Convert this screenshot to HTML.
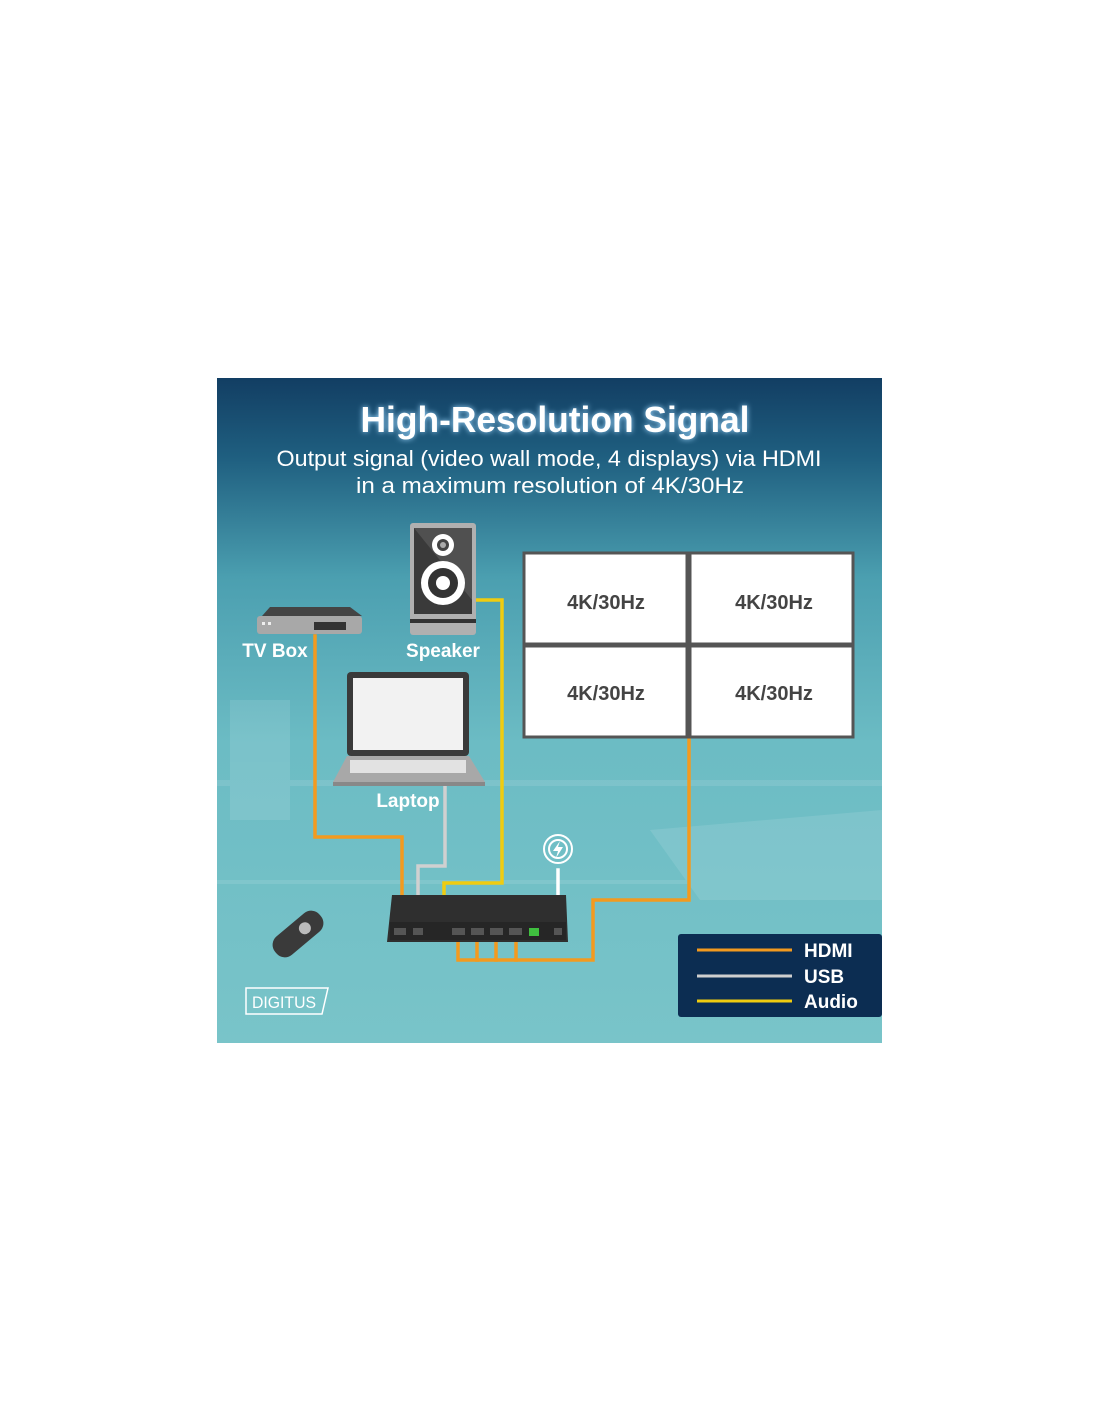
<!DOCTYPE html>
<html><head><meta charset="utf-8"><style>
html,body{margin:0;padding:0;background:#fff;}
svg{display:block;}
text{font-family:"Liberation Sans Narrow","Liberation Sans",sans-serif;}
</style></head><body>
<svg width="1100" height="1422" viewBox="0 0 1100 1422" xmlns="http://www.w3.org/2000/svg">
<defs>
<linearGradient id="bg" x1="0" y1="0" x2="0" y2="1">
<stop offset="0" stop-color="#123e63"/>
<stop offset="0.12" stop-color="#1f5f80"/>
<stop offset="0.3" stop-color="#4b9fb0"/>
<stop offset="0.55" stop-color="#6cbcc4"/>
<stop offset="1" stop-color="#79c4c9"/>
</linearGradient>
<filter id="glow"><feGaussianBlur stdDeviation="3"/></filter>
</defs>
<rect x="217" y="378" width="665" height="665" fill="url(#bg)"/>
<g opacity="0.1" fill="#ffffff">
<rect x="217" y="780" width="665" height="6"/>
<rect x="217" y="880" width="665" height="4"/>
<polygon points="650,830 882,810 882,900 700,900"/>
<rect x="230" y="700" width="60" height="120"/>
</g>
<text x="555" y="432" text-anchor="middle" font-size="36" font-weight="bold" fill="#9fd8ff" filter="url(#glow)" textLength="389" lengthAdjust="spacingAndGlyphs">High-Resolution Signal</text>
<text x="555" y="432" text-anchor="middle" font-size="36" font-weight="bold" fill="#fff" textLength="389" lengthAdjust="spacingAndGlyphs">High-Resolution Signal</text>
<text x="549" y="466" text-anchor="middle" font-size="22" fill="#fff" textLength="545" lengthAdjust="spacingAndGlyphs">Output signal (video wall mode, 4 displays) via HDMI</text>
<text x="550" y="493" text-anchor="middle" font-size="22" fill="#fff" textLength="388" lengthAdjust="spacingAndGlyphs">in a maximum resolution of 4K/30Hz</text>

<g fill="none" stroke-width="3.5" stroke-linejoin="miter" stroke-linecap="square">
<polyline points="315,636 315,837 402,837 402,930" stroke="#f39a1f"/>
<polyline points="445,785 445,866 418,866 418,930" stroke="#d0d0d0"/>
<polyline points="476,600 502,600 502,883 444,883 444,930" stroke="#f0cc10"/>
<polyline points="431,930 431,917 444,917" stroke="#f0cc10"/>
<polyline points="558,870 558,930" stroke="#ffffff"/>
<polyline points="458,935 458,960 593,960 593,900 689,900 689,738" stroke="#f39a1f"/>
<line x1="477" y1="935" x2="477" y2="960" stroke="#f39a1f"/>
<line x1="496" y1="935" x2="496" y2="960" stroke="#f39a1f"/>
<line x1="516" y1="935" x2="516" y2="960" stroke="#f39a1f"/>
</g>

<circle cx="558" cy="849" r="14" fill="none" stroke="#fff" stroke-width="2"/>
<circle cx="558" cy="849" r="9" fill="none" stroke="#fff" stroke-width="2"/>
<polygon points="560,841 553,851 558,851 556,858 563,847 558,847" fill="#fff"/>

<polygon points="392,895 566,895 568,942 387,942" fill="#2f2f2f"/>
<rect x="390" y="922" width="176" height="18" fill="#262626"/>
<g fill="#555"><rect x="394" y="928" width="12" height="7"/><rect x="413" y="928" width="10" height="7"/>
<rect x="452" y="928" width="13" height="7"/><rect x="471" y="928" width="13" height="7"/><rect x="490" y="928" width="13" height="7"/><rect x="509" y="928" width="13" height="7"/><rect x="554" y="928" width="8" height="7"/></g>
<rect x="529" y="928" width="10" height="8" fill="#3fbf3f"/>

<rect x="410" y="523" width="66" height="112" rx="3" fill="#b0b0b0"/>
<rect x="414" y="528" width="58" height="86" fill="#3a3a3a"/>
<polygon points="414,528 472,528 472,600" fill="#666" opacity="0.5"/>
<rect x="410" y="619" width="66" height="4" fill="#333"/>
<circle cx="443" cy="545" r="11" fill="#fff"/><circle cx="443" cy="545" r="6" fill="#444"/><circle cx="443" cy="545" r="3" fill="#aaa"/>
<circle cx="443" cy="583" r="22" fill="#fff"/><circle cx="443" cy="583" r="15" fill="#333"/><circle cx="443" cy="583" r="7" fill="#fff"/>

<polygon points="262,616 270,607 350,607 362,616" fill="#444"/>
<rect x="257" y="616" width="105" height="18" rx="3" fill="#a8a8a8"/>
<rect x="314" y="622" width="32" height="8" fill="#333"/>
<rect x="262" y="622" width="3" height="3" fill="#eee"/><rect x="268" y="622" width="3" height="3" fill="#eee"/>

<rect x="347" y="672" width="122" height="84" rx="4" fill="#3a3a3a"/>
<rect x="353" y="678" width="110" height="72" fill="#f2f2f2"/>
<polygon points="347,756 469,756 485,782 333,782" fill="#a8a8a8"/>
<rect x="350" y="760" width="116" height="13" fill="#f5f5f5" opacity="0.75"/>
<rect x="333" y="782" width="152" height="4" fill="#888"/>

<g font-size="19" font-weight="bold" fill="#fff">
<text x="275" y="657" text-anchor="middle">TV Box</text>
<text x="443" y="657" text-anchor="middle">Speaker</text>
<text x="408" y="807" text-anchor="middle">Laptop</text>
</g>

<g fill="#fff" stroke="#555" stroke-width="3">
<rect x="524" y="553" width="163" height="91"/>
<rect x="690" y="553" width="163" height="91"/>
<rect x="524" y="646" width="163" height="91"/>
<rect x="690" y="646" width="163" height="91"/>
</g>
<g font-size="20" font-weight="bold" fill="#444" text-anchor="middle">
<text x="606" y="609">4K/30Hz</text><text x="774" y="609">4K/30Hz</text>
<text x="606" y="700">4K/30Hz</text><text x="774" y="700">4K/30Hz</text>
</g>

<g transform="rotate(50 298 934)">
<rect x="286" y="905" width="24" height="58" rx="11" fill="#3a3a3a"/>
<circle cx="298" cy="925" r="6" fill="#bbb"/>
</g>

<polygon points="246,988 328,988 322,1014 246,1014" fill="none" stroke="#fff" stroke-width="1.5"/>
<text x="284" y="1008" text-anchor="middle" font-family="Liberation Serif,serif" font-size="17" fill="#fff" textLength="64" lengthAdjust="spacingAndGlyphs">DIGITUS</text>

<rect x="678" y="934" width="204" height="83" rx="3" fill="#0c2d52"/>
<line x1="697" y1="950" x2="792" y2="950" stroke="#f39a1f" stroke-width="3"/>
<line x1="697" y1="976" x2="792" y2="976" stroke="#cfcfcf" stroke-width="3"/>
<line x1="697" y1="1001" x2="792" y2="1001" stroke="#f0cc10" stroke-width="3"/>
<g font-size="19" font-weight="bold" fill="#fff">
<text x="804" y="957">HDMI</text><text x="804" y="983">USB</text><text x="804" y="1008">Audio</text>
</g>
</svg>
</body></html>
